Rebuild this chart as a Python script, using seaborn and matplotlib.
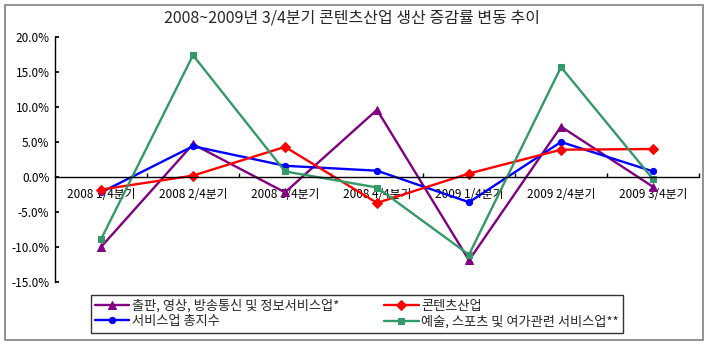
import matplotlib
matplotlib.use("Agg")
import matplotlib.pyplot as plt
import seaborn as sns
import pandas as pd
from matplotlib.patches import Rectangle
from matplotlib.ticker import FuncFormatter, FixedLocator

# Quarterly labels
quarters = ["2008 1/4분기", "2008 2/4분기", "2008 3/4분기", "2008 4/4분기",
            "2009 1/4분기", "2009 2/4분기", "2009 3/4분기"]

# Growth rates (%) by series
publishing = [-10.0, 4.7, -2.2, 9.6, -11.9, 7.2, -1.4]   # 출판, 영상, 방송통신 및 정보서비스업*
content = [-1.8, 0.2, 4.3, -3.7, 0.5, 3.9, 4.0]           # 콘텐츠산업
services = [-2.2, 4.4, 1.6, 0.9, -3.6, 5.0, 0.8]          # 서비스업 총지수
arts = [-8.9, 17.4, 0.8, -1.5, -11.1, 15.7, -0.3]         # 예술, 스포츠 및 여가관련 서비스업**

series_names = ["출판, 영상, 방송통신 및 정보서비스업*", "서비스업 총지수",
                "콘텐츠산업", "예술, 스포츠 및 여가관련 서비스업**"]
series_values = [publishing, services, content, arts]
colors = ["#800080", "#0000FF", "#FF0000", "#339966"]
markers = ["^", "o", "D", "s"]
msizes = [5.5, 4.5, 5, 5]

rows = []
for name, vals in zip(series_names, series_values):
    for i, v in enumerate(vals):
        rows.append({"series": name, "pos": i, "value": v})
df = pd.DataFrame(rows)

sns.set_theme(style="white")
plt.rcParams["font.family"] = ["Noto Sans CJK KR", "DejaVu Sans"]

fig = plt.figure(figsize=(7.07, 3.45), dpi=100)
ax = fig.add_axes([55 / 707, 1 - 282 / 345, 644 / 707, 245 / 345])

for name, c, m, ms in zip(series_names, colors, markers, msizes):
    sub = df[df["series"] == name]
    sns.lineplot(data=sub, x="pos", y="value", ax=ax, color=c, marker=m,
                 markersize=ms, markeredgecolor=c, linewidth=1.7,
                 label=name, legend=False)

ax.set_xlim(-0.5, len(quarters) - 0.5)
ax.set_ylim(-15, 20)
ax.set_yticks(range(-15, 21, 5))
ax.yaxis.set_major_formatter(FuncFormatter(lambda v, p: f"{v:.1f}%"))
ax.set_xlabel("")
ax.set_ylabel("")

# Category axis crossing at zero
ax.spines["bottom"].set_position(("data", 0))
ax.spines["bottom"].set_color("black")
ax.spines["bottom"].set_linewidth(1.0)
ax.spines["left"].set_color("black")
ax.spines["left"].set_linewidth(1.0)
ax.spines["top"].set_visible(False)
ax.spines["right"].set_visible(False)

ax.xaxis.set_major_locator(FixedLocator(range(len(quarters))))
ax.set_xticklabels(quarters)
ax.xaxis.set_minor_locator(FixedLocator([i + 0.5 for i in range(len(quarters))]))
ax.tick_params(axis="x", which="major", length=0, pad=8, labelsize=8.5, colors="black")
ax.tick_params(axis="x", which="minor", length=3, direction="in", color="black", bottom=True)
ax.tick_params(axis="y", which="major", length=3, direction="in", left=True,
               labelsize=8.5, colors="black", pad=4)
ax.grid(False)

fig.suptitle("2008~2009년 3/4분기 콘텐츠산업 생산 증감률 변동 추이",
             x=352 / 707, y=1 - 18 / 345, va="center", fontsize=11.5)

# Outer frame
fig.patches.append(Rectangle((5 / 707, 5 / 345), 698 / 707, 335 / 345,
                             transform=fig.transFigure, fill=False,
                             edgecolor="#808080", linewidth=1.2))

handles, labels = ax.get_legend_handles_labels()
leg = fig.legend(handles, labels, ncol=2, loc="center",
                 bbox_to_anchor=(357 / 707, 1 - 314 / 345),
                 fontsize=9.5, frameon=True, fancybox=False,
                 edgecolor="black", handlelength=2.6, handletextpad=0.2,
                 borderpad=0.35, labelspacing=0.15, columnspacing=3.4,
                 borderaxespad=0.0)
leg.get_frame().set_linewidth(1.0)

fig.savefig("out.png", dpi=100)
